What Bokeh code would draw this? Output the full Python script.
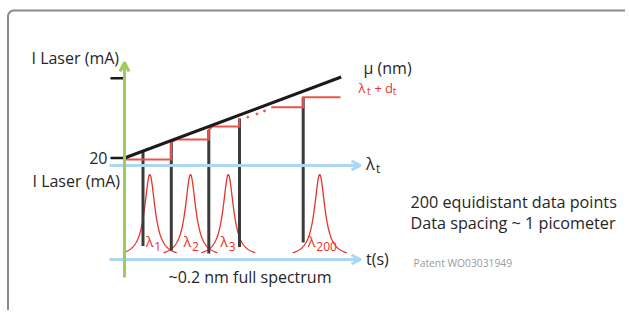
import math
import numpy as np
from bokeh.plotting import figure
from bokeh.models import Range1d, Arrow, OpenHead
from bokeh.core.properties import value
from bokeh.embed import file_html
from bokeh.resources import INLINE

FONT = "Open Sans"
DARK = "#262626"
RED = "#e8322c"
RED_STEP = "#e9544c"
BLUE = "#acd6f2"
GREEN = "#9fcb5c"
BAR = "#3b3b3b"

# ---- diagram data (pixel-space coordinates of the schematic) ----
axis_x = 124
green_y = [277, 62]
tick_y = [77.7, 157.5]
mu_x = [124, 340.7]
mu_y = [157.5, 76.5]
step_x = [124, 170.6, 170.6, 176, 208.2, 208.2, 212, 238.8, 238.8]
step_y = [159, 159, 141.5, 139, 139, 129.5, 126, 126, 118]
step2_x = [270.7, 302.7, 302.7, 340]
step2_y = [106.7, 106.7, 96.7, 96.7]
dots_x = [247.3, 256.5, 264.0]
dots_y = [116.6, 113.4, 110.4]
bar_x = [142.5, 170.8, 208.3, 239.0, 302.7]
bar_top = [150.5, 141.0, 129.5, 118.0, 96.7]
bar_bottom = [245.5, 250.0, 253.0, 246.5, 242.0]
peak_centers = [149.3, 190.0, 227.8, 319.2]
peak_top = 174.0
peak_base = 256.5
peak_halfwidth = 27
peak_gamma = 6.3
peak_labels = ["1", "2", "3", "200"]
peak_label_x = [145.3, 183.0, 219.8, 307.3]
lambda_t_y = 165
time_y = 259
blue_x = [109, 360]

W, H = 625, 310
p = figure(width=W, height=H, x_range=Range1d(0, W), y_range=Range1d(H, 0),
           output_backend="svg", toolbar_location=None, min_border=0)
p.axis.visible = False
p.grid.visible = False
p.outline_line_color = None
p.background_fill_color = "white"
p.border_fill_color = "white"

# frame (rounded top-left corner)
fx, fy = [7.5], [330]
for k in range(0, 11):
    a = math.pi - (math.pi / 2) * k / 10
    fx.append(13.5 + 6 * math.cos(a)); fy.append(16 - 6 * math.sin(a))
fx.append(640); fy.append(10)
p.line(fx, fy, line_color="#8a8a8a", line_width=2)

# light blue axes with arrows
for yy in [lambda_t_y, time_y]:
    p.add_layout(Arrow(end=OpenHead(size=9, line_color=BLUE, line_width=3),
                       x_start=blue_x[0], y_start=yy, x_end=blue_x[1], y_end=yy,
                       line_color=BLUE, line_width=3))

# red peaks
for c in peak_centers:
    xs = np.linspace(c - peak_halfwidth, c + peak_halfwidth, 121)
    ys = peak_base - (peak_base - peak_top) / (1 + ((xs - c) / peak_gamma) ** 2)
    p.line(xs, ys, line_color=RED, line_width=1.3)

# dark vertical bars
p.segment(x0=bar_x, y0=bar_top, x1=bar_x, y1=bar_bottom, line_color=BAR, line_width=3)

# red step line
p.line(step_x, step_y, line_color=RED_STEP, line_width=2, line_join="miter")
p.line(step2_x, step2_y, line_color=RED_STEP, line_width=2, line_join="miter")
p.scatter(dots_x, dots_y, size=2, color=RED_STEP)

# black mu line
p.line(mu_x, mu_y, line_color="#1a1a1a", line_width=3)

# green axis
p.add_layout(Arrow(end=OpenHead(size=9, line_color=GREEN, line_width=3),
                   x_start=axis_x, y_start=green_y[0], x_end=axis_x, y_end=green_y[1],
                   line_color=GREEN, line_width=3))

# ticks
p.segment(x0=[110, 110], y0=tick_y, x1=[123, 123], y1=tick_y, line_color="#1a1a1a", line_width=2.5)


def txt(x, y, s, size, color=DARK, align="left"):
    p.text(x=[x], y=[y], text=[s], text_font=value(FONT), text_font_size=f"{size}px",
           text_color=color, text_align=align, text_baseline="middle")


txt(31, 57, "I Laser (mA)", 16)
txt(107, 157, "20", 16, align="right")
txt(32, 180, "I Laser (mA)", 16)
txt(363, 67, "μ (nm)", 16)
# λt + dt
txt(358, 87.5, "λ", 13, RED)
txt(366.5, 90.5, "t", 10, RED)
txt(374, 87.5, "+", 13, RED)
txt(384.5, 87.5, "d", 13, RED)
txt(392.3, 90.5, "t", 10, RED)
# λt axis label
txt(365.5, 163.3, "λ", 16.5, DARK)
txt(375.5, 168, "t", 12, DARK)
txt(365.5, 258, "t(s)", 16)
txt(168, 276, "~0.2 nm full spectrum", 16)
txt(410, 201.5, "200 equidistant data points", 16.2)
txt(410, 222.5, "Data spacing ~ 1 picometer", 16.2)
txt(413, 262, "Patent WO03031949", 10.3, "#9a9a9a")

for lx, lab in zip(peak_label_x, peak_labels):
    txt(lx, 240.5, "λ", 14.5, RED)
    txt(lx + 8.5, 245.5, lab, 12, RED)

open("out.html", "w").write(file_html(p, INLINE))
